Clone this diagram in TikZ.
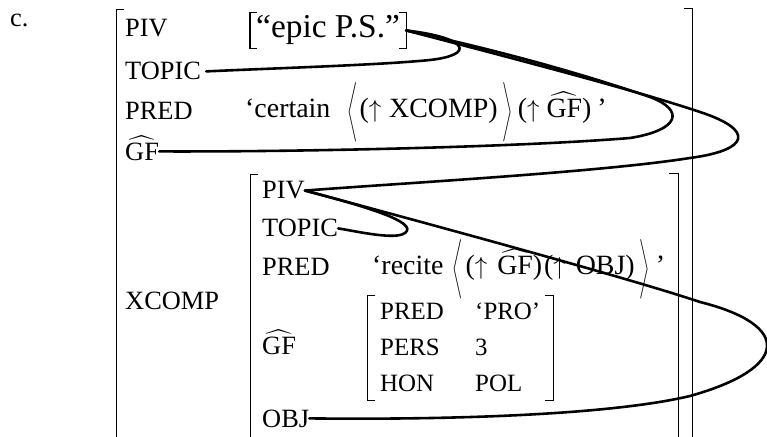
\documentclass[tikz,border=0pt]{standalone}
\usepackage{amsmath}
\usepackage{fontspec}
\setmainfont{Liberation Serif}
\newcommand{\gfhat}{$\widehat{\mbox{GF}}$}
\newcommand{\uarr}{$\uparrow$}
\newcommand{\angL}{\scalebox{.55}[1]{$\bigg\langle$}}
\newcommand{\angR}{\scalebox{.55}[1]{$\bigg\rangle$}}

\begin{document}
\begin{tikzpicture}[x=1bp,y=-1bp,font=\fontsize{26.5}{31}\selectfont,
  attr/.style={anchor=base west,inner sep=0pt},
  val/.style={anchor=base west,inner sep=0pt,font=\fontsize{28}{33}\selectfont},
  small/.style={font=\fontsize{25}{30}\selectfont},
  brk/.style={line width=.9pt},
  link/.style={line width=2.6pt,line cap=round}]
\useasboundingbox (0,0) rectangle (767,437);

% ============ OUTER f-structure ============
\node[attr] (lblC) at (10,27) {c.};
\draw[brk] (124,9) -| (116,437);
\draw[brk] (684,8) -| (692,437);
\foreach \n/\t/\y in {pivA/PIV/37,topicA/TOPIC/80,predA/PRED/120,
    gfA/\gfhat/161,xcompA/XCOMP/310}
  \node[attr] (\n) at (125,\y) {\t};
\node[val,font=\fontsize{33.5}{39}\selectfont,minimum height=35bp,inner xsep=6bp]
  (epic) at (250,38) {“epic P.S.”};
\draw[line width=1.1pt] ([xshift=7bp]epic.north west) -- (epic.north west)
  -- (epic.south west) -- ++(7,0);
\draw[line width=1.1pt] ([xshift=-7bp]epic.north east) -- (epic.north east)
  -- (epic.south east) -- ++(-7,0);
\node[val] (certain) at (245,118)
  {‘certain\hspace{17pt}\angL\hspace{2pt}(\uarr\hspace{8pt}XCOMP)\hspace{5pt}\angR\hspace{5pt}(\uarr\hspace{7pt}\gfhat)\hspace{6pt}’};

% ============ XCOMP f-structure ============
\draw[brk] (258,174) -| (250,437);
\draw[brk] (669,173) -| (678,437);
\foreach \n/\t/\y in {pivB/PIV/199,topicB/TOPIC/237,predB/PRED/276,
    gfB/\gfhat/355,objB/OBJ/427}
  \node[attr] (\n) at (262,\y) {\t};
\node[val] (recite) at (372,275)
  {‘recite\hspace{9pt}\angL\hspace{3pt}(\uarr\hspace{10pt}\gfhat)\hspace{2pt}(\uarr\hspace{10pt}OBJ)\hspace{5pt}\angR\hspace{6pt}’};

% ============ GF f-structure ============
\draw[brk] (375,295) -| (367,400) -- (375,400);
\draw[brk] (545,295) -| (553,400) -- (545,400);
\foreach \n/\t/\v/\y in {predC/PRED/‘PRO’/320,persC/PERS/3/356,honC/HON/POL/391}{
  \node[attr,small] (\n) at (380,\y) {\t};
  \node[attr,small] (\n-val) at (475,\y) {\v};}

% ============ structure sharing ============
\draw[link] (epic.east) .. controls (470,38) and (475,55) .. (430,60)
  .. controls (380,65) and (280,68) .. ([xshift=5pt]topicA.east);
\draw[link] (epic.east) .. controls (520,55) and (600,80) .. (650,97)
  .. controls (685,110) and (680,130) .. (630,138)
  .. controls (520,147) and (300,152) .. ([yshift=-3pt]gfA.east);
\draw[link] (epic.east) .. controls (550,68) and (640,92) .. (700,112)
  .. controls (755,130) and (750,150) .. (690,158)
  .. controls (600,172) and (420,182) .. (pivB.east);
\draw[link] (pivB.east) .. controls (360,205) and (420,222) .. (405,233)
  .. controls (395,240) and (360,232) .. (topicB.east);
\draw[link] (pivB.east) .. controls (500,243) and (640,282) .. (700,302)
  .. controls (792,325) and (790,368) .. (690,396)
  .. controls (610,415) and (450,420) .. (objB.east);
\end{tikzpicture}
\end{document}
